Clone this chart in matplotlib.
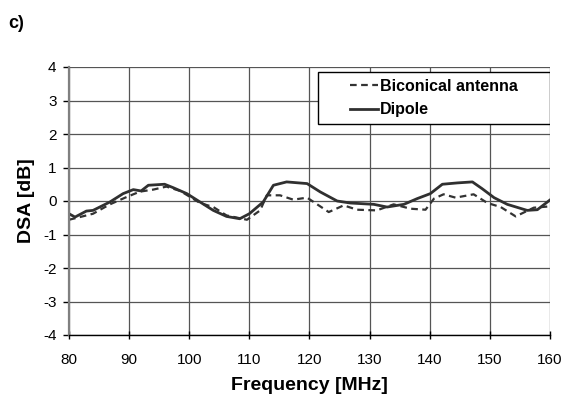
import matplotlib
matplotlib.use("Agg")
import matplotlib.pyplot as plt
from matplotlib.patches import Rectangle

# DSA versus frequency for the two reference antennas
dipole_f = [80, 81, 82.9, 84, 86.8, 89, 90.7, 92, 93.2, 95.9, 97.3, 99.6,
            101.8, 104, 106.2, 108.4, 110, 112.3, 114, 116.2, 119.6, 121.8,
            124.6, 126.8, 130.7, 132.9, 135.7, 137.9, 140.1, 142.1, 144.6,
            147.1, 148.7, 150.7, 152.9, 156.2, 157.9, 160]
dipole_dsa = [-0.38, -0.48, -0.30, -0.28, -0.03, 0.22, 0.34, 0.30, 0.47, 0.50,
              0.40, 0.22, -0.03, -0.28, -0.46, -0.53, -0.38, -0.03, 0.47, 0.57,
              0.52, 0.27, 0.00, -0.06, -0.10, -0.18, -0.10, 0.07, 0.22, 0.50,
              0.54, 0.57, 0.37, 0.10, -0.10, -0.28, -0.26, 0.03]

bicon_f = [80, 81.8, 84, 86.8, 89.6, 91.8, 94, 96.2, 98.5, 101.8, 104, 106.2,
           109.6, 111.8, 112.9, 115.1, 117.3, 119.6, 120.7, 123.2, 125.7,
           127.9, 131.2, 134, 136.8, 139.3, 140.7, 142.3, 144.3, 147.3, 149.6,
           151.8, 154.3, 157.3, 160]
bicon_dsa = [-0.56, -0.48, -0.38, -0.10, 0.12, 0.28, 0.34, 0.43, 0.30, -0.06,
             -0.18, -0.43, -0.56, -0.28, 0.17, 0.17, 0.04, 0.10, -0.03, -0.33,
             -0.13, -0.26, -0.28, -0.10, -0.23, -0.26, 0.07, 0.20, 0.10, 0.20,
             -0.06, -0.18, -0.46, -0.20, -0.16]

x_ticks = list(range(80, 161, 10))
y_ticks = list(range(-4, 5))

plt.rcParams["font.family"] = ["Liberation Sans", "DejaVu Sans"]
plt.rcParams["axes.unicode_minus"] = False

fig = plt.figure(figsize=(5.65, 4.0), dpi=100)
ax = fig.add_axes([0.1221, 0.1625, 0.8513, 0.67])

ax.plot(bicon_f, bicon_dsa, color="#333333", linewidth=1.6,
        linestyle=(0, (3, 2)), label="Biconical antenna")
ax.plot(dipole_f, dipole_dsa, color="#303030", linewidth=2.0,
        label="Dipole")

ax.set_xlim(80, 160)
ax.set_ylim(-4, 4)
ax.set_xticks(x_ticks)
ax.set_yticks(y_ticks)
ax.grid(True, color="#555555", linewidth=0.9)
ax.set_axisbelow(True)

for side in ("top", "right"):
    ax.spines[side].set_visible(False)
ax.spines["left"].set_color("#808080")
ax.spines["left"].set_linewidth(1.6)
ax.spines["bottom"].set_color("black")
ax.spines["bottom"].set_linewidth(1.0)

ax.tick_params(axis="both", labelsize=11, length=4, width=1.0,
               direction="out", pad=5)
ax.tick_params(axis="x", direction="inout", length=6, pad=10)

ax.set_xlabel("Frequency [MHz]", fontsize=14, fontweight="bold", labelpad=7)
ax.set_ylabel("DSA [dB]", fontsize=14, fontweight="bold", labelpad=6)

# white legend panel in the upper right corner, legend centred inside it
box = Rectangle((0.5177, 0.787), 0.4823, 0.194, transform=ax.transAxes,
                facecolor="white", edgecolor="black", linewidth=1.0,
                zorder=4)
ax.add_patch(box)
leg = ax.legend(loc="center", bbox_to_anchor=(0.759, 0.884),
                prop={"weight": "bold", "size": 11.5},
                frameon=False, handlelength=1.75, handletextpad=0.15,
                borderpad=0.0, labelspacing=0.55, borderaxespad=0.0)
leg.set_zorder(5)

fig.text(0.014, 0.93, "c)", fontsize=13, fontweight="bold")

fig.savefig("out.png", dpi=100)
